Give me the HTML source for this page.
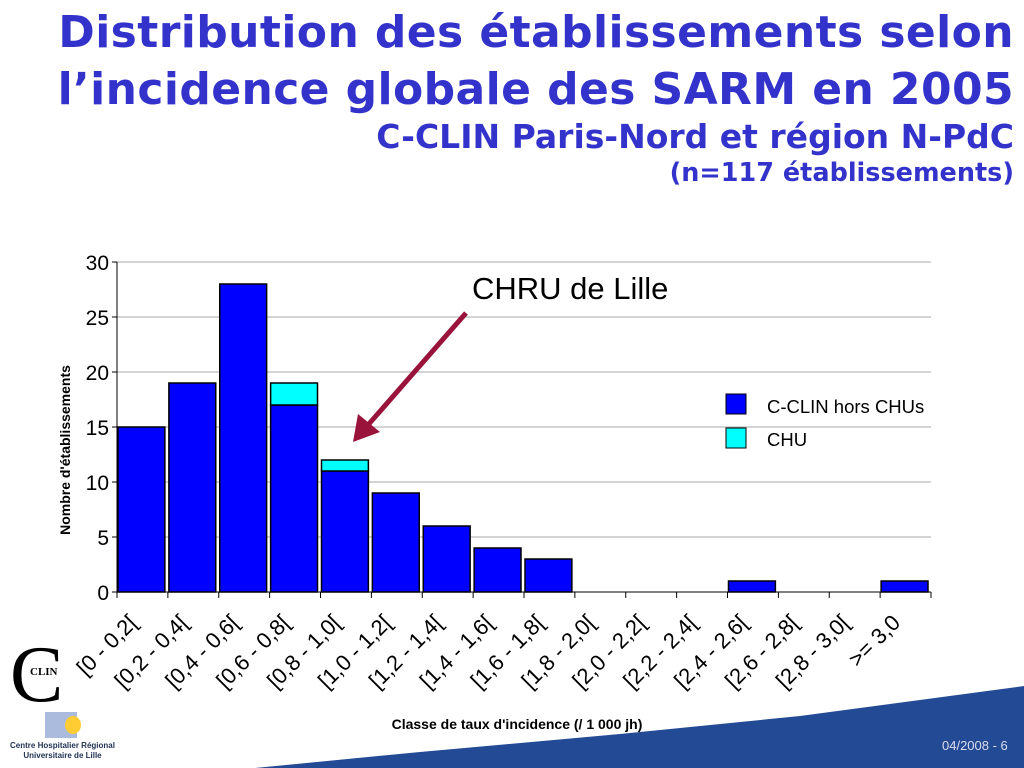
<!DOCTYPE html>
<html><head><meta charset="utf-8"><style>
body{margin:0;width:1024px;height:768px;background:#fff;overflow:hidden;font-family:"Liberation Sans",sans-serif;position:relative}
.t{position:absolute;right:10px;text-align:right;color:#3333cc;font-weight:bold;margin:0;white-space:nowrap;font-family:"DejaVu Sans",sans-serif}
</style></head><body>
<div class="t" style="top:8px;font-size:44px;line-height:50px;letter-spacing:0.4px">Distribution des établissements selon</div>
<div class="t" style="top:65px;font-size:44px;line-height:50px;letter-spacing:0.4px">l’incidence globale des SARM en 2005</div>
<div class="t" style="top:120px;font-size:33px;line-height:34px">C-CLIN Paris-Nord et région N-PdC</div>
<div class="t" style="top:158px;font-size:25.5px;line-height:30px">(n=117 établissements)</div>
<svg id="chart" width="1024" height="768" style="position:absolute;left:0;top:0">
<polygon points="255,768 420,752 620,734 800,716 1024,686 1024,768" fill="#234a94"/>
</svg>
<div style="position:absolute;left:942px;top:738px;font-size:13px;color:#dde">04/2008 - 6</div>
<div style="position:absolute;left:10px;top:640px;width:60px;height:70px;font-family:'Liberation Serif',serif;font-size:80px;line-height:70px">C<span style="position:absolute;left:20px;top:26px;font-size:11px;line-height:12px;font-weight:bold;background:#fff">CLIN</span></div>
<div style="position:absolute;left:45px;top:712px;width:32px;height:26px;background:#abd"><div style="position:absolute;right:-4px;top:4px;width:16px;height:18px;border-radius:50%;background:#fc3"></div></div>
<div style="position:absolute;left:5px;top:741px;width:115px;text-align:center;font-size:8px;font-weight:bold;color:#235;line-height:10px">Centre Hospitalier Régional<br>Universitaire de Lille</div>
<script>
const categories=["[0 - 0,2[","[0,2 - 0,4[","[0,4 - 0,6[","[0,6 - 0,8[","[0,8 - 1,0[","[1,0 - 1,2[","[1,2 - 1,4[","[1,4 - 1,6[","[1,6 - 1,8[","[1,8 - 2,0[","[2,0 - 2,2[","[2,2 - 2,4[","[2,4 - 2,6[","[2,6 - 2,8[","[2,8 - 3,0[",">= 3,0"];
const horsChu=[15,19,28,17,11,9,6,4,3,0,0,0,1,0,0,1];
const chu=[0,0,0,2,1,0,0,0,0,0,0,0,0,0,0,0];
const yTicks=[0,5,10,15,20,25,30];
const NS="http://www.w3.org/2000/svg";
const svg=document.getElementById('chart');
const L=117,R=931,T=262,B=592,YMAX=30;
const bw=(R-L)/categories.length;
const y=v=>B-(v/YMAX)*(B-T);
const x=i=>L+i*bw;
function mk(tag,a,p){const e=document.createElementNS(NS,tag);for(const k in a)e.setAttribute(k,a[k]);(p||svg).appendChild(e);return e;}
yTicks.forEach(t=>{
 if(t>0){const g=mk('line',{x1:L,x2:R,y1:y(t),y2:y(t),stroke:'#aaa','stroke-width':1});
 
 }
 const tk=mk('line',{x1:L-5,x2:L,y1:y(t),y2:y(t),stroke:'#000'});
 
 
 const tx=mk('text',{x:L-8,y:y(t)+8,'text-anchor':'end','font-size':'21px','font-family':'Liberation Sans Narrow, Liberation Sans'});
 tx.textContent=t;
 
 
});
categories.forEach((c,i)=>{
 const x0=x(i)+1,w=bw-4;
 if(horsChu[i]>0){const r=mk('rect',{x:x0,y:y(horsChu[i]),width:w,height:B-y(horsChu[i]),fill:'#0000ff',stroke:'#000','stroke-width':1.5});
 
 }
 if(chu[i]>0){const r=mk('rect',{x:x0,y:y(horsChu[i]+chu[i]),width:w,height:y(horsChu[i])-y(horsChu[i]+chu[i]),fill:'#00ffff',stroke:'#000','stroke-width':1.5});
 
 }
 const tk=mk('line',{x1:x(i),x2:x(i),y1:B,y2:B+6,stroke:'#000'});
 
 
 const cx=x(i)+bw/2-4,cy=624;
 const tx=mk('text',{x:cx,y:cy,'text-anchor':'end','font-size':'22px','font-family':'Liberation Sans Narrow, Liberation Sans',transform:`rotate(-45 ${cx} ${cy})`});
 tx.textContent=c;
 
 
});
const tkr=mk('line',{x1:R,x2:R,y1:B,y2:B+6,stroke:'#000'});


const ax=mk('line',{x1:L,x2:L,y1:T,y2:B,stroke:'#000'});


const bx=mk('line',{x1:L,x2:R,y1:B,y2:B,stroke:'#000'});


const yt=mk('text',{x:70,y:450,'text-anchor':'middle','font-size':'14px','font-weight':'bold','font-family':'Liberation Sans',transform:'rotate(-90 70 450)'});
yt.textContent="Nombre d'établissements";


const xt=mk('text',{x:517,y:729,'text-anchor':'middle','font-size':'14px','font-weight':'bold','font-family':'Liberation Sans'});
xt.textContent="Classe de taux d'incidence (/ 1 000 jh)";


const l1=mk('rect',{x:726,y:394,width:20,height:20,fill:'#0000ff',stroke:'#000'});


const lt1=mk('text',{x:767,y:413,'font-size':'18.5px','font-family':'Liberation Sans'});
lt1.textContent='C-CLIN hors CHUs';


const l2=mk('rect',{x:726,y:428,width:20,height:20,fill:'#00ffff',stroke:'#000'});


const lt2=mk('text',{x:767,y:446,'font-size':'18.5px','font-family':'Liberation Sans'});
lt2.textContent='CHU';


const an=mk('text',{x:472,y:299,'font-size':'31px','font-family':'Liberation Sans'});
an.textContent='CHRU de Lille';


const ar=mk('line',{x1:466,y1:313,x2:368,y2:425,stroke:'#99133a','stroke-width':5});


const ah=mk('polygon',{points:'353,442 358,414 380,432',fill:'#99133a'});


</script>
</body></html>
